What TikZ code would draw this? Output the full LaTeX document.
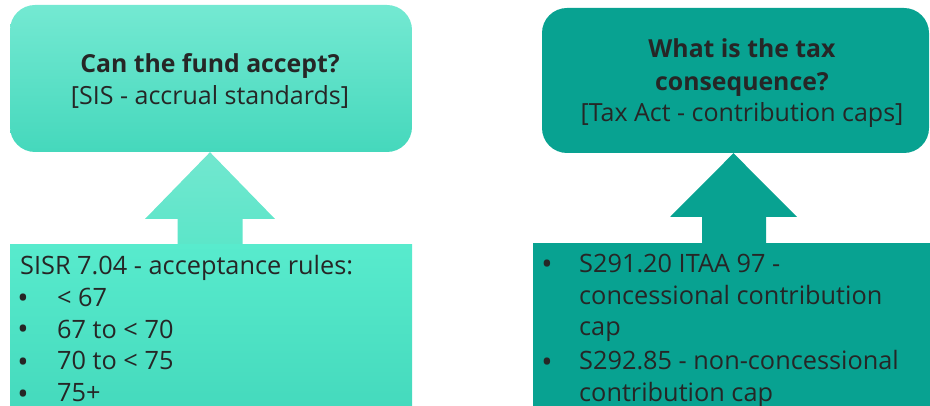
\documentclass[tikz,border=0pt]{standalone}
\usepackage{fontspec}
\setmainfont{Open Sans}
\usetikzlibrary{calc}
\definecolor{ink}{HTML}{262626}
\definecolor{mintTop}{HTML}{74E9D2}
\definecolor{mintBot}{HTML}{45D8BC}
\definecolor{mintArrTop}{HTML}{72E7CF}
\definecolor{mintArrBot}{HTML}{5CE6C9}
\definecolor{mintBoxTop}{HTML}{58EBCD}
\definecolor{mintBoxBot}{HTML}{44D9BC}
\definecolor{teal}{HTML}{08A291}
\tikzset{
  qbox/.style={rounded corners=25pt, inner sep=0pt},
  rbox/.style={inner sep=0pt},
  headtxt/.style={text=ink, anchor=base, inner sep=0pt, font=\fontsize{24.8}{32}\selectfont\bfseries},
  subtxt/.style={text=ink, anchor=base, inner sep=0pt, font=\fontsize{25}{32}\selectfont},
  bodytxt/.style={text=ink, anchor=base west, inner sep=0pt, font=\fontsize{25.3}{32}\selectfont},
  dot/.style={text=ink, anchor=base, inner sep=0pt, font=\fontsize{30}{32}\selectfont},
}
\begin{document}
\begin{tikzpicture}[x=1pt, y=-1pt]
\useasboundingbox (0,0) rectangle (930,406);
\clip (0,0) rectangle (930,406);

% ---- left column: acceptance rules ----
\node[qbox, top color=mintTop, bottom color=mintBot,
      minimum width=402pt, minimum height=147pt] (q1) at (211,78.5) {};
\node[headtxt] (q1h) at (210,73) {Can the fund accept?};
\node[subtxt] (q1s) at (210,105) {[SIS - accrual standards]};

\node[rbox, top color=mintBoxTop, bottom color=mintBoxBot, anchor=north west,
      minimum width=402pt, minimum height=170pt] (r1) at (10,244) {};

% block arrow from the rules box up to the question box
\shade[top color=mintArrTop, bottom color=mintArrBot]
  (q1.south -| 210,0) -- (275,219) -- (242.5,219) -- (242.5,244 |- r1.north)
  -- (177.5,244 |- r1.north) -- (177.5,219) -- (145,219) -- cycle;

\node[bodytxt] (r1a) at (20,275) {SISR 7.04 - acceptance rules:};
\foreach \y/\t [count=\i] in {307/{< 67}, 338/{67 to < 70}, 370/{70 to < 75}, 402/{75+}}{
  \node[dot] (r1b\i) at (23,\y+2) {•};
  \node[bodytxt] (r1t\i) at (57,\y) {\t};
}

% ---- right column: tax consequence ----
\node[qbox, fill=teal, minimum width=387pt, minimum height=145pt] (q2) at (735.5,80.5) {};
\node[headtxt] (q2h1) at (742,58) {What is the tax};
\node[headtxt] (q2h2) at (742,91) {consequence?};
\node[subtxt] (q2s) at (742,122) {[Tax Act - contribution caps]};

\node[rbox, fill=teal, anchor=north west,
      minimum width=400pt, minimum height=170pt] (r2) at (533,243) {};

% block arrow from the rules box up to the question box
\fill[teal]
  (q2.south -| 733.5,0) -- (797,217) -- (766,217) -- (766,243 |- r2.north)
  -- (702,243 |- r2.north) -- (702,217) -- (670,217) -- cycle;

\node[dot] (r2b1) at (547,275) {•};
\node[bodytxt] (r2t1) at (579,273) {S291.20 ITAA 97 -};
\node[bodytxt] (r2t2) at (579,305) {concessional contribution};
\node[bodytxt] (r2t3) at (579,336) {cap};
\node[dot] (r2b2) at (547,372) {•};
\node[bodytxt] (r2t4) at (579,370) {S292.85 - non-concessional};
\node[bodytxt] (r2t5) at (579,401) {contribution cap};
\end{tikzpicture}
\end{document}
